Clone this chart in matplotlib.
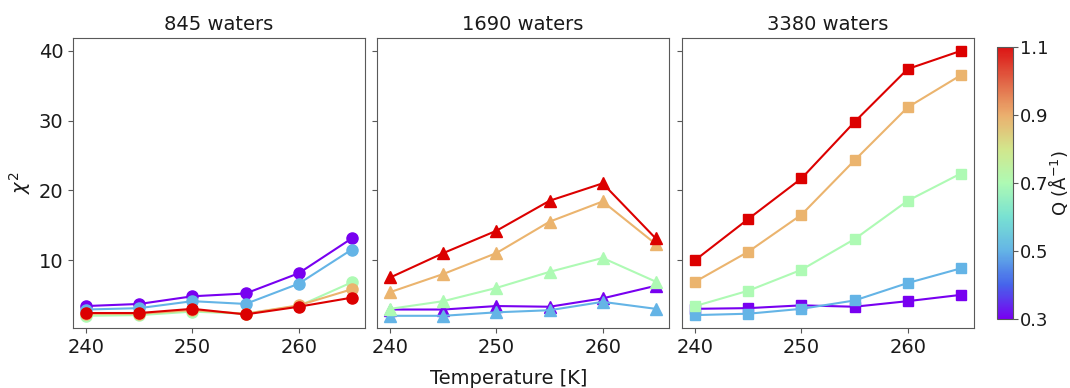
import numpy as np
import matplotlib.pyplot as plt
from matplotlib import cm
from matplotlib.colors import Normalize, LinearSegmentedColormap

# temperatures and scattering vectors
temps = [240, 245, 250, 255, 260, 265]
q_values = [0.3, 0.5, 0.7, 0.9, 1.1]

# chi^2 per system size, one row per Q (ascending)
chi2_845 = [
    [3.4, 3.7, 4.8, 5.2, 8.1, 13.1],
    [2.9, 3.1, 4.1, 3.7, 6.6, 11.5],
    [2.0, 2.1, 2.6, 2.3, 3.4, 6.8],
    [2.3, 2.3, 2.8, 2.3, 3.5, 5.8],
    [2.4, 2.4, 3.0, 2.2, 3.3, 4.6],
]
chi2_1690 = [
    [2.9, 2.9, 3.4, 3.3, 4.5, 6.3],
    [2.0, 2.0, 2.5, 2.8, 4.0, 3.0],
    [3.0, 4.1, 6.0, 8.3, 10.3, 6.9],
    [5.4, 8.0, 11.0, 15.5, 18.4, 12.3],
    [7.5, 11.0, 14.2, 18.5, 21.0, 13.1],
]
chi2_3380 = [
    [3.0, 3.1, 3.5, 3.3, 4.1, 5.0],
    [2.1, 2.3, 3.0, 4.2, 6.7, 8.8],
    [3.4, 5.6, 8.6, 13.0, 18.5, 22.4],
    [6.9, 11.2, 16.5, 24.3, 31.9, 36.5],
    [10.0, 15.9, 21.7, 29.8, 37.4, 40.0],
]

titles = ['845 waters', '1690 waters', '3380 waters']
markers = ['o', '^', 's']
sizes = [8, 8.5, 7.5]

# softened rainbow, Q = 0.3 ... 1.1 in steps of 0.1
cmap = LinearSegmentedColormap.from_list('soft_rainbow', [
    '#7800f0', '#4664eb', '#64b4e6', '#78e1d2', '#aefab4',
    '#d2e68c', '#ebaf6e', '#e16446', '#dc1414'])
norm = Normalize(vmin=0.3, vmax=1.1)
line_colors = ['#7800f0', '#64b4e6', '#aefab4', '#ebb46e', '#dc0000']

plt.rcParams['font.size'] = 14
plt.rcParams['axes.edgecolor'] = '0.35'
plt.rcParams['xtick.color'] = '0.35'
plt.rcParams['ytick.color'] = '0.35'
plt.rcParams['xtick.labelcolor'] = '0.1'
plt.rcParams['ytick.labelcolor'] = '0.1'

fig = plt.figure(figsize=(10.7, 3.88), dpi=100)
W, H = 1070, 388
lefts = [73, 377, 682]
width = 292
top, bottom = 38, 328

axes = []
for i, data in enumerate([chi2_845, chi2_1690, chi2_3380]):
    ax = fig.add_axes([lefts[i] / W, 1 - bottom / H, width / W, (bottom - top) / H],
                      sharey=axes[0] if axes else None)
    for c, row in zip(line_colors, data):
        ax.plot(temps, row, marker=markers[i], ms=sizes[i], lw=1.5, color=c)
    ax.set_title(titles[i], fontsize=14, color='0.1')
    ax.set_xticks([240, 250, 260])
    ax.set_xlim(238.75, 266.25)
    if i > 0:
        ax.tick_params(labelleft=False)
    axes.append(ax)

axes[0].set_ylim(0.25, 41.85)
axes[0].set_yticks([10, 20, 30, 40])
axes[0].set_ylabel(r'$\chi^2$', color='0.1')

fig.text(509 / W, 1 - 378 / H, 'Temperature [K]', ha='center', va='center',
         fontsize=14, color='0.1')

cax = fig.add_axes([997 / W, 1 - 319 / H, 16 / W, (319 - 47) / H])
sm = cm.ScalarMappable(norm=norm, cmap=cmap)
cb = fig.colorbar(sm, cax=cax, ticks=[0.3, 0.5, 0.7, 0.9, 1.1])
cb.outline.set_edgecolor('0.35')
cb.ax.tick_params(labelsize=13, pad=1.5)
cb.set_label(r'Q ($\mathrm{\AA}^{-1}$)', color='0.1', fontsize=13, labelpad=-1.5)

fig.savefig('out.png', dpi=100)
